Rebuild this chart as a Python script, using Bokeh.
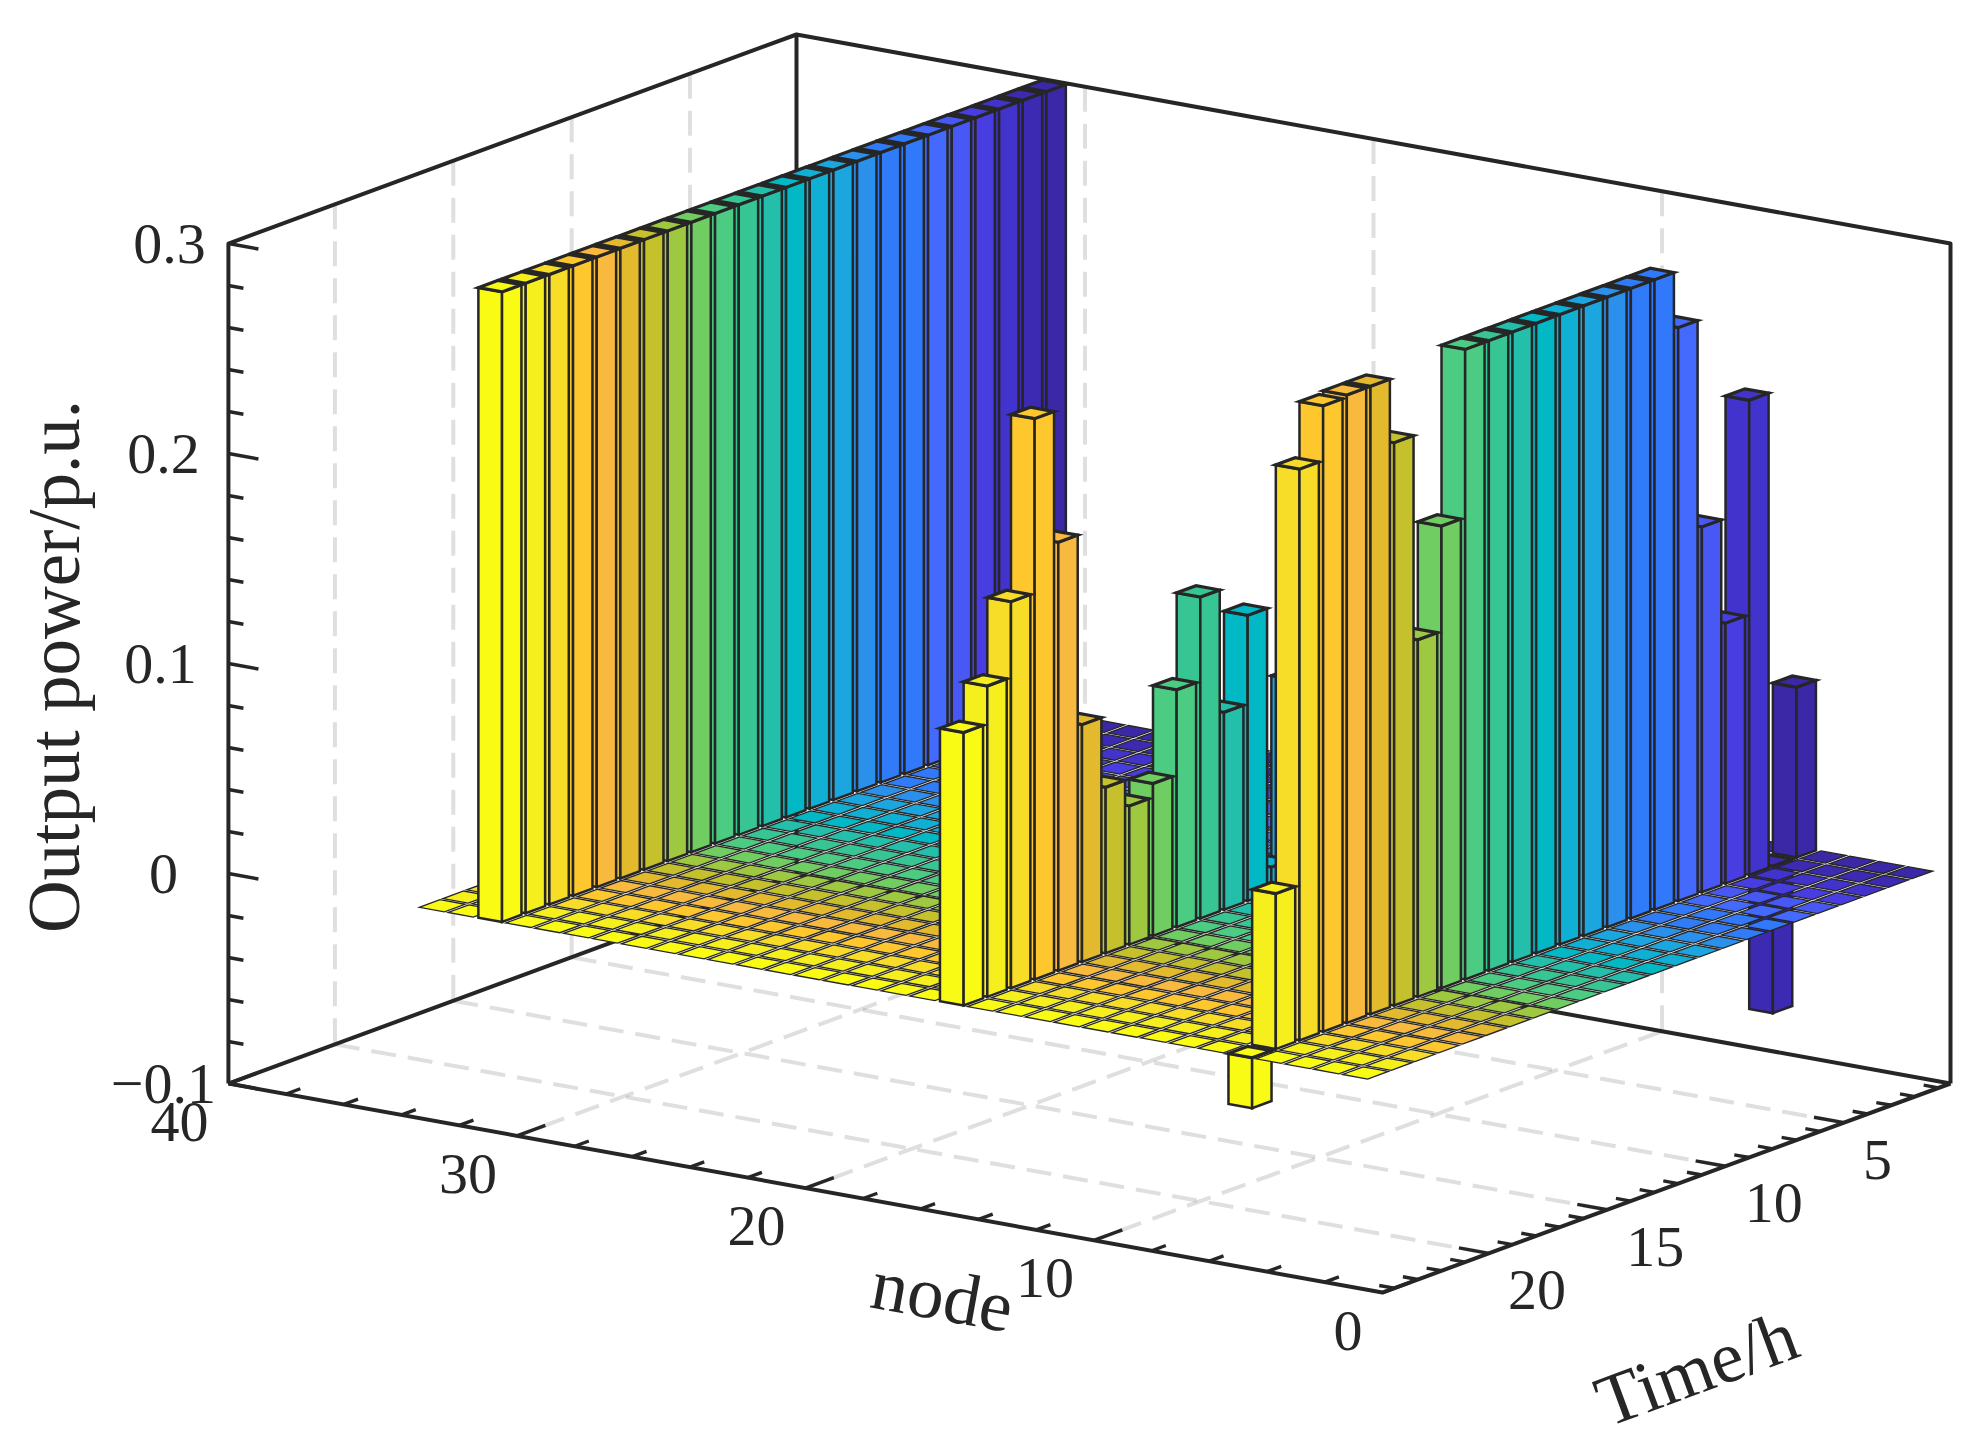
from bokeh.plotting import figure
from bokeh.models import ColumnDataSource, Range1d
from bokeh.embed import file_html
from bokeh.resources import INLINE
from bokeh.core.properties import value

# ---------- data ----------
nodes = list(range(1, 34))
hours = list(range(1, 25))

# output power/p.u. per hour (1..24); nodes not listed here are 0
node5_output = [0.081, -0.070, 0.226, 0.124, 0.174, 0.273, 0.300, 0.300, 0.300, 0.300, 0.300, 0.300,
                0.300, 0.300, 0.300, 0.220, 0.170, 0.268, 0.299, 0.299, 0.298, 0.272, 0.074, -0.024]
# hours 1-9 of node 15 are hidden behind node 5 in the picture
node15_output = [0.0, 0.0, 0.0, 0.0, 0.0, 0.0, 0.0, 0.0, 0.0, 0.097, 0.012, 0.136,
                 0.094, 0.153, 0.113, 0.0725, 0.066, 0.079, 0.113, 0.204, 0.267, 0.184, 0.148, 0.130]
node31_output = [0.300] * 24

hour_colors = ["#3a28a6", "#3c2ab3", "#4233cc", "#473de0", "#4858f4", "#4469fd", "#3079fa", "#307cf8",
               "#2a90ec", "#1ca6df", "#10afd4", "#02b8c4", "#24bfab", "#38c594", "#4ccb83", "#70cd61",
               "#9dc83f", "#c4c12c", "#e3b92e", "#f7b93e", "#fdc72d", "#f7dc28", "#f5ef1d", "#fafb14"]

z_major = [-0.1, 0.0, 0.1, 0.2, 0.3]
z_labels = ["\u22120.1", "0", "0.1", "0.2", "0.3"]
z_minor = [-0.08, -0.06, -0.04, -0.02, 0.02, 0.04, 0.06, 0.08, 0.12, 0.14, 0.16, 0.18, 0.22, 0.24, 0.26, 0.28]
node_major = [0, 10, 20, 30, 40]
node_labels = ["0", "10", "20", "30", "40"]
node_minor = [2, 4, 6, 8, 12, 14, 16, 18, 22, 24, 26, 28, 32, 34, 36, 38]
time_major = [5, 10, 15, 20]
time_labels = ["5", "10", "15", "20"]
time_minor = [1, 2, 3, 4, 6, 7, 8, 9, 11, 12, 13, 14, 16, 17, 18, 19, 21, 22, 23, 24]

# ---------- view (orthographic projection) ----------
N_MIN, N_MAX = 0.0, 40.0
T_MIN, T_MAX = 0.5, 24.5
Z_MIN, Z_MAX = -0.1, 0.3
RX, RY = 1950.0, 1083.0     # screen position of n=N_MIN, t=T_MIN, z=Z_MIN
UN = (-28.85, -5.225)       # screen step per node
UT = (-23.67, 8.71)         # screen step per hour
UZ = -2100.0                # screen y step per p.u.
BAR_W = 0.82
TILE_W = 0.87
DARK = "#262626"


def proj(n, t, z):
    x = RX + (n - N_MIN) * UN[0] + (t - T_MIN) * UT[0]
    y = RY + (n - N_MIN) * UN[1] + (t - T_MIN) * UT[1] + (z - Z_MIN) * UZ
    return x, y


def poly(points):
    pts = [proj(*q) for q in points]
    return [a for a, _ in pts], [b for _, b in pts]


p = figure(width=1972, height=1447, output_backend="svg", toolbar_location=None, min_border=0,
           x_range=Range1d(0, 1972), y_range=Range1d(1447, 0), background_fill_color="white")
p.axis.visible = False
p.grid.visible = False
p.outline_line_color = None

# ---------- grid ----------
gx, gy = [], []
for t in time_major:
    for seg in ([(N_MAX, t, Z_MAX), (N_MAX, t, Z_MIN)], [(N_MAX, t, Z_MIN), (N_MIN, t, Z_MIN)]):
        a, b = poly(seg); gx.append(a); gy.append(b)
for n in node_major[1:-1]:
    for seg in ([(n, T_MIN, Z_MAX), (n, T_MIN, Z_MIN)], [(n, T_MIN, Z_MIN), (n, T_MAX, Z_MIN)]):
        a, b = poly(seg); gx.append(a); gy.append(b)
p.multi_line(gx, gy, line_color=DARK, line_alpha=0.15, line_width=4, line_dash="25 12")

# ---------- box ----------
bx, by = [], []
for seg in (
    [(N_MAX, T_MAX, Z_MIN), (N_MAX, T_MAX, Z_MAX), (N_MAX, T_MIN, Z_MAX), (N_MIN, T_MIN, Z_MAX), (N_MIN, T_MIN, Z_MIN)],
    [(N_MAX, T_MAX, Z_MIN), (N_MIN, T_MAX, Z_MIN), (N_MIN, T_MIN, Z_MIN)],
    [(N_MAX, T_MAX, Z_MIN), (N_MAX, T_MIN, Z_MIN), (N_MIN, T_MIN, Z_MIN)],
    [(N_MAX, T_MIN, Z_MIN), (N_MAX, T_MIN, Z_MAX)],
):
    a, b = poly(seg); bx.append(a); by.append(b)

tx, ty = [], []
Z_TICK = 1.04   # in nodes
T_TICK = 1.2    # in hours (node axis ticks)
N_TICK = 1.04   # in nodes (time axis ticks)
for z, f in [(v, 1.0) for v in z_major] + [(v, 0.5) for v in z_minor]:
    a, b = poly([(N_MAX, T_MAX, z), (N_MAX - Z_TICK * f, T_MAX, z)]); tx.append(a); ty.append(b)
for n, f in [(v, 1.0) for v in node_major] + [(v, 0.5) for v in node_minor]:
    a, b = poly([(n, T_MAX, Z_MIN), (n, T_MAX - T_TICK * f, Z_MIN)]); tx.append(a); ty.append(b)
for t, f in [(v, 1.0) for v in time_major] + [(v, 0.5) for v in time_minor]:
    a, b = poly([(N_MIN, t, Z_MIN), (N_MIN + N_TICK * f, t, Z_MIN)]); tx.append(a); ty.append(b)
p.multi_line(tx, ty, line_color=DARK, line_width=3.4)
p.multi_line(bx, by, line_color=DARK, line_width=4, line_join="round")

# ---------- bars, far to near ----------
series = {5: node5_output, 15: node15_output, 31: node31_output}
xs, ys, fills, widths = [], [], [], []


def add(points, color, lw):
    a, b = poly(points)
    xs.append(a); ys.append(b); fills.append(color); widths.append(lw)


for n in sorted(nodes, reverse=True):
    vals = series.get(n)
    for i, t in enumerate(hours):
        h = vals[i] if vals else 0.0
        c = hour_colors[i]
        if h == 0.0:
            n0, n1 = n - TILE_W / 2, n + TILE_W / 2
            t0, t1 = t - TILE_W / 2, t + TILE_W / 2
            add([(n0, t0, 0), (n1, t0, 0), (n1, t1, 0), (n0, t1, 0)], c, 1.3)
            continue
        n0, n1 = n - BAR_W / 2, n + BAR_W / 2
        t0, t1 = t - BAR_W / 2, t + BAR_W / 2
        z0, z1 = min(h, 0.0), max(h, 0.0)
        add([(n0, t1, z0), (n1, t1, z0), (n1, t1, z1), (n0, t1, z1)], c, 2.5)
        add([(n0, t0, z0), (n0, t1, z0), (n0, t1, z1), (n0, t0, z1)], c, 2.5)
        add([(n0, t0, z1), (n1, t0, z1), (n1, t1, z1), (n0, t1, z1)], c, 3.2)

p.patches("xs", "ys", source=ColumnDataSource(dict(xs=xs, ys=ys, fill=fills, lw=widths)),
          fill_color="fill", line_color=DARK, line_width="lw", line_join="miter")

# ---------- texts ----------
FONT = value("Liberation Serif")
TICK_PX = "58px"
LABEL_PX = "73px"


def texts(pos, labels, dx, dy, align):
    dxs = dx if isinstance(dx, list) else [dx] * len(pos)
    p.text([q[0] + d for q, d in zip(pos, dxs)], [q[1] + dy for q in pos], text=labels, text_font=FONT,
           text_font_size=TICK_PX, text_color=DARK, text_align=align, text_baseline="middle")


texts([proj(N_MAX, T_MAX, z) for z in z_major], z_labels, [-65, -65, -68, -65, -59], 0, "center")
texts([proj(n, T_MAX, Z_MIN) for n in node_major], node_labels, -20, 38, "right")
texts([proj(N_MIN, t, Z_MIN) for t in time_major], time_labels, 19, 37, "left")

for label, x, y, ang in (("Output power/p.u.", 54, 666, 1.5708),
                         ("node", 942, 1295, -0.18),
                         ("Time/h", 1696, 1368, 0.354)):
    p.text([x], [y], text=[label], angle=ang, text_font=FONT, text_font_size=LABEL_PX, text_color=DARK,
           text_align="center", text_baseline="middle")

open("out.html", "w").write(file_html(p, INLINE))
